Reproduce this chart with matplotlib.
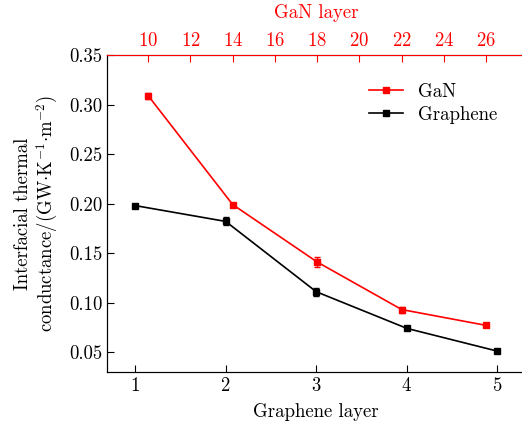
import matplotlib
import matplotlib.pyplot as plt
from matplotlib.lines import Line2D

matplotlib.use("Agg")

plt.rcParams["font.family"] = "serif"
plt.rcParams["font.serif"] = ["cmr10"]
plt.rcParams["mathtext.fontset"] = "cm"
plt.rcParams["axes.formatter.use_mathtext"] = True

graphene_layers = [1, 2, 3, 4, 5]
graphene_itc = [0.198, 0.182, 0.111, 0.074, 0.051]
graphene_err = [0.002, 0.004, 0.004, 0.002, 0.002]

gan_layers = [10, 14, 18, 22, 26]
gan_itc = [0.309, 0.199, 0.141, 0.093, 0.077]
gan_err = [0.003, 0.002, 0.005, 0.003, 0.002]

gan_ticks = [10, 12, 14, 16, 18, 20, 22, 24, 26]

fs = 13.5

fig = plt.figure(figsize=(5.22, 4.30), dpi=100)
ax = fig.add_axes([0.205, 0.135, 0.80, 0.737])
ax2 = ax.twiny()

ax.set_xlim(0.69, 5.3)
ax.set_ylim(0.03, 0.35)
# map bottom axis range onto GaN layer scale
g0 = 10 + (0.69 - 1.144) / 0.2333
g1 = 10 + (5.3 - 1.144) / 0.2333
ax2.set_xlim(g0, g1)

ax.errorbar(graphene_layers, graphene_itc, yerr=graphene_err, color="black",
            marker="s", markersize=5, lw=1.2, capsize=2.5, elinewidth=1)
ax2.errorbar(gan_layers, gan_itc, yerr=gan_err, color="red",
             marker="s", markersize=5, lw=1.2, capsize=2.5, elinewidth=1)

ax.set_xticks(graphene_layers)
ax.set_yticks([0.05, 0.10, 0.15, 0.20, 0.25, 0.30, 0.35])
ax.set_yticklabels(["0.05", "0.10", "0.15", "0.20", "0.25", "0.30", "0.35"])
ax.tick_params(direction="in", labelsize=fs, length=5, top=False, right=False)
ax.set_xlabel("Graphene layer", fontsize=fs, labelpad=6)
ax.set_ylabel("Interfacial thermal\nconductance/(GW$\\cdot$K$^{-1}$$\\cdot$m$^{-2}$)",
              fontsize=fs, labelpad=6)

ax2.set_xticks(gan_ticks)
ax2.tick_params(direction="in", labelsize=fs, length=5, colors="red")
ax2.set_xlabel("GaN layer", fontsize=fs, color="red", labelpad=10)
ax2.spines["top"].set_color("red")

for a in (ax, ax2):
    a.spines["right"].set_visible(False)

handles = [Line2D([], [], color="red", marker="s", markersize=5, lw=1.2),
           Line2D([], [], color="black", marker="s", markersize=5, lw=1.2)]
ax.legend(handles, ["GaN", "Graphene"], loc="upper right",
          bbox_to_anchor=(0.975, 0.965), frameon=False, fontsize=fs,
          handlelength=1.8, labelspacing=0.25)

fig.savefig("out.png", dpi=100)
